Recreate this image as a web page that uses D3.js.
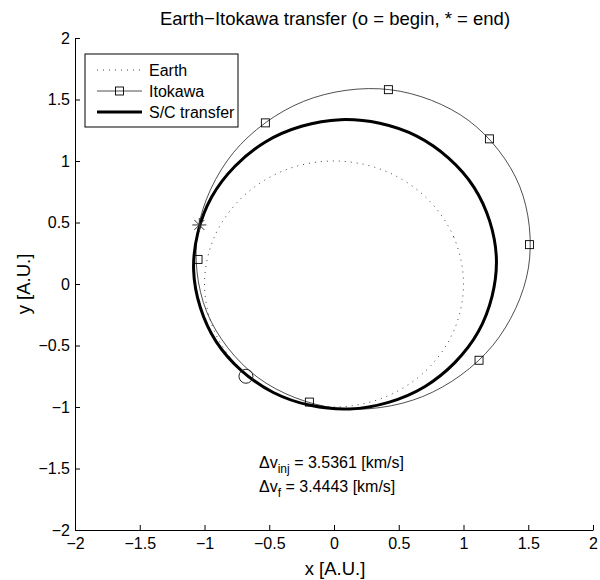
<!DOCTYPE html>
<html>
<head>
<meta charset="utf-8">
<script src="https://cdn.jsdelivr.net/npm/d3@7"></script>
<style>
  body { margin:0; background:#fff; }
  svg text { font-family: "Liberation Sans", Arial, sans-serif; fill:#000; }
</style>
</head>
<body>
<div id="chart"></div>
<script>
// values (A.U.)
var earthOrbit = [[1,0],[0.924,0.383],[0.707,0.707],[0.383,0.924],[0,1],[-0.383,0.924],[-0.707,0.707],[-0.924,0.383],
  [-1,0],[-0.924,-0.383],[-0.707,-0.707],[-0.383,-0.924],[0,-1],[0.383,-0.924],[0.707,-0.707],[0.924,-0.383]];
var itokawaOrbit = [[1.041,1.328],[0.431,1.580],[-0.235,1.485],[-0.777,1.068],[-1.051,0.441],[-0.983,-0.226],
  [-0.591,-0.758],[0.019,-1.010],[0.685,-0.915],[1.227,-0.498],[1.501,0.129],[1.433,0.796]];
var itokawaMarks = [[-0.53,1.31],[0.42,1.58],[1.20,1.18],[1.51,0.32],[1.12,-0.62],[-0.19,-0.96],[-1.05,0.20]];
var transferOrbit = [[0.639,1.202],[0.05,1.336],[-0.53,1.155],[-0.945,0.707],[-1.084,0.113],[-0.91,-0.468],
  [-0.469,-0.882],[0.12,-1.016],[0.70,-0.835],[1.115,-0.387],[1.254,0.207],[1.08,0.788]];
var beginPoint = [-0.68,-0.75];
var endPoint = [-1.04,0.48];
var xTicks = [-2,-1.5,-1,-0.5,0,0.5,1,1.5,2];
var yTicks = [-2,-1.5,-1,-0.5,0,0.5,1,1.5,2];
var legendNames = ["Earth","Itokawa","S/C transfer"];
var dvInj = "3.5361";
var dvF = "3.4443";

var width=600, height=580;
var svg=d3.select("#chart").append("svg")
  .attr("width",width)
  .attr("height",height);

var x=d3.scaleLinear().domain([-2,2]).range([75,593]);
var y=d3.scaleLinear().domain([-2,2]).range([530,38]);

var fmt=function(d){ return String(d).replace("-","\u2212"); };

// axes, ticks inward
var xAxis=d3.axisBottom(x).tickValues(xTicks).tickFormat(fmt).tickSizeInner(-5).tickSizeOuter(0).tickPadding(8);
var yAxis=d3.axisLeft(y).tickValues(yTicks).tickFormat(fmt).tickSizeInner(-5).tickSizeOuter(0).tickPadding(5);

var gx=svg.append("g").attr("transform","translate(0,"+y(-2)+")").call(xAxis);
var gy=svg.append("g").attr("transform","translate("+x(-2)+",0)").call(yAxis);
[gx,gy].forEach(function(g){
  g.selectAll("path").attr("stroke","#000").attr("stroke-width",1);
  g.selectAll("line").attr("stroke","#000").attr("stroke-width",1);
  g.selectAll("text").style("font-size","16px").attr("fill","#000");
});

var line=d3.line()
  .x(function(d){return x(d[0]);})
  .y(function(d){return y(d[1]);})
  .curve(d3.curveCatmullRomClosed);

svg.append("path")
  .attr("d",line(earthOrbit))
  .attr("fill","none")
  .attr("stroke","#444")
  .attr("stroke-width",1)
  .attr("stroke-dasharray","1,5");

svg.append("path")
  .attr("d",line(itokawaOrbit))
  .attr("fill","none")
  .attr("stroke","#222")
  .attr("stroke-width",0.8);

svg.selectAll(".sq")
  .data(itokawaMarks)
  .enter()
  .append("rect")
  .attr("class","sq")
  .attr("x",function(d){return x(d[0])-4;})
  .attr("y",function(d){return y(d[1])-4;})
  .attr("width",8)
  .attr("height",8)
  .attr("fill","none")
  .attr("stroke","#000")
  .attr("stroke-width",0.9);

svg.append("path")
  .attr("d",line(transferOrbit))
  .attr("fill","none")
  .attr("stroke","#000")
  .attr("stroke-width",3);

// begin marker
svg.append("circle")
  .attr("cx",x(beginPoint[0]))
  .attr("cy",y(beginPoint[1]))
  .attr("r",7)
  .attr("fill","none")
  .attr("stroke","#222")
  .attr("stroke-width",1);

// end marker (*)
var sx=x(endPoint[0]), sy=y(endPoint[1]);
var star=svg.append("g").attr("stroke","#333").attr("stroke-width",1);
star.append("line").attr("x1",sx-7).attr("x2",sx+7).attr("y1",sy).attr("y2",sy);
star.append("line").attr("x1",sx).attr("x2",sx).attr("y1",sy-7).attr("y2",sy+7);
star.append("line").attr("x1",sx-5).attr("x2",sx+5).attr("y1",sy-5).attr("y2",sy+5);
star.append("line").attr("x1",sx-5).attr("x2",sx+5).attr("y1",sy+5).attr("y2",sy-5);

// title
svg.append("text")
  .attr("x",335)
  .attr("y",25)
  .attr("text-anchor","middle")
  .style("font-size","18.5px")
  .text("Earth\u2212Itokawa transfer (o = begin, * = end)");

svg.append("text")
  .attr("x",335)
  .attr("y",575)
  .attr("text-anchor","middle")
  .style("font-size","18.5px")
  .text("x [A.U.]");

svg.append("text")
  .attr("transform","translate(30,284) rotate(-90)")
  .attr("text-anchor","middle")
  .style("font-size","18.5px")
  .text("y [A.U.]");

// delta-v annotation
var t1=svg.append("text").attr("x",259).attr("y",468).style("font-size","16px");
t1.append("tspan").text("\u0394v");
t1.append("tspan").attr("dy",5).style("font-size","12px").text("inj");
t1.append("tspan").attr("dy",-5).text(" = "+dvInj+" [km/s]");
var t2=svg.append("text").attr("x",259).attr("y",492).style("font-size","16px");
t2.append("tspan").text("\u0394v");
t2.append("tspan").attr("dy",5).style("font-size","12px").text("f");
t2.append("tspan").attr("dy",-5).text(" = "+dvF+" [km/s]");

// legend
var lg=svg.append("g");
lg.append("rect")
  .attr("x",85).attr("y",54).attr("width",153).attr("height",73)
  .attr("fill","#fff").attr("stroke","#000").attr("stroke-width",1);
var rows=[70,91,112];
lg.append("line").attr("x1",97).attr("x2",142).attr("y1",rows[0]).attr("y2",rows[0])
  .attr("stroke","#444").attr("stroke-dasharray","1,5");
lg.append("line").attr("x1",97).attr("x2",142).attr("y1",rows[1]).attr("y2",rows[1])
  .attr("stroke","#222").attr("stroke-width",0.8);
lg.append("rect").attr("x",115.5).attr("y",rows[1]-4).attr("width",8).attr("height",8)
  .attr("fill","none").attr("stroke","#000").attr("stroke-width",0.9);
lg.append("line").attr("x1",97).attr("x2",142).attr("y1",rows[2]).attr("y2",rows[2])
  .attr("stroke","#000").attr("stroke-width",3);
lg.selectAll(".lt")
  .data(legendNames)
  .enter()
  .append("text")
  .attr("class","lt")
  .attr("x",149)
  .attr("y",function(d,i){return rows[i]+5.5;})
  .style("font-size","16px")
  .text(function(d){return d;});
</script>
</body>
</html>
